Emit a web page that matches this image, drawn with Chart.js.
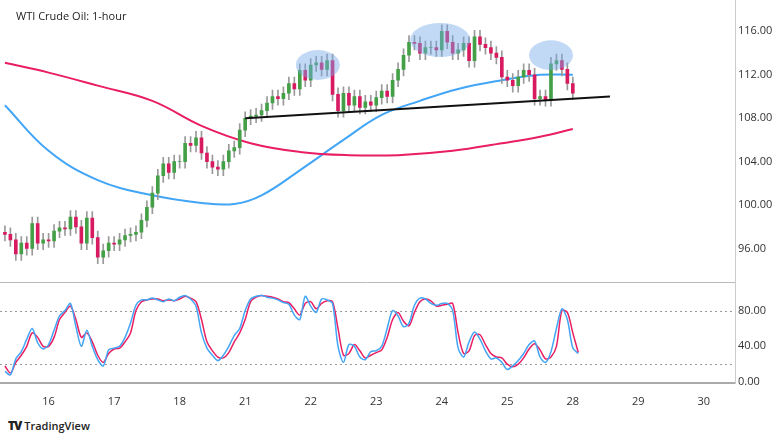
<!DOCTYPE html>
<html>
<head>
<meta charset="utf-8">
<script src="https://cdn.jsdelivr.net/npm/chart.js@4"></script>
<style>
  body { margin: 0; background: #fff; font-family: "Open Sans", sans-serif; }
  #wrap { position: relative; width: 780px; height: 439px; overflow: hidden; }
  #main { position: absolute; left: 0; top: -13px; width: 780px; height: 311px; }
  #osc { position: absolute; left: 0; top: 272px; width: 780px; height: 133px; }
  #title { position: absolute; left: 16px; top: 8px; font-size: 11px; color: #222; }
  #tv { position: absolute; left: 8px; top: 417px; font-size: 11px; color: #222; font-weight: 600; }
</style>
</head>
<body>
<div id="wrap">
  <div id="main"><canvas id="mainChart"></canvas></div>
  <div id="osc"><canvas id="oscChart"></canvas></div>
  <div id="title">WTI Crude Oil: 1-hour</div>
  <div id="tv"><b style="font-size:12px;letter-spacing:-1px">TV</b> TradingView</div>
</div>
<script>
// 2-hour bars, index 0 = first bar
const closes = [
  97.3, 96.8, 95.5, 96.5, 96.0, 98.3, 96.5, 96.8,
  96.7, 97.6, 97.9, 97.8, 98.9, 98.0, 96.5, 98.8, 97.0, 95.2, 95.8, 96.5,
  96.4, 96.8, 97.2, 97.3, 97.5, 98.6, 99.8, 101.1, 102.7, 103.8, 103.0, 104.0,
  104.0, 105.7, 105.5, 106.2, 104.8, 104.0, 103.5, 103.3, 104.0, 105.0, 105.3, 106.9,
  108.0, 108.2, 108.3, 108.7, 109.4, 110.0, 109.8, 110.3, 111.2, 110.7, 112.4, 111.5,
  112.9, 113.1, 112.5, 113.3, 110.2, 108.7, 110.3, 109.2, 110.0, 109.0, 109.5, 109.2,
  109.9, 110.5, 110.0, 111.5, 112.5, 113.8, 115.0, 114.9, 114.0, 114.5, 114.5, 114.3,
  116.0, 115.0, 114.0, 114.3, 114.9, 113.3, 115.5, 114.8, 114.5, 114.0, 113.6, 111.8,
  111.5, 111.0, 111.8, 112.4, 112.0, 109.8, 110.0, 109.7, 113.0, 113.3, 112.5, 111.2,
  110.3
];
const firstOpen = 97.5;

const maBlueX = [0, 8, 17, 27, 36, 42, 47, 54, 62, 69, 76, 83, 91, 98, 104];
const maBlueY = [109.2, 105.0, 102.3, 100.9, 100.2, 100.1, 100.9, 103.2, 106.0, 108.3, 109.6, 110.7, 111.5, 112.0, 112.0];
const maPinkX = [0, 8, 17, 27, 36, 45, 54, 63, 72, 82, 91, 98, 104];
const maPinkY = [113.1, 112.2, 111.0, 109.6, 107.3, 105.7, 104.9, 104.6, 104.6, 105.0, 105.7, 106.3, 107.0];

const stochD = [
  18, 10, 22, 30, 40, 55, 50, 40,
  40, 50, 70, 78, 85, 70, 50, 55, 45, 30, 22, 32,
  37, 38, 45, 55, 80, 90, 92, 93, 93, 91, 92, 91,
  93, 96, 94, 90, 70, 45, 35, 28, 27, 33, 45, 55,
  70, 90, 95, 97, 96, 95, 93, 90, 89, 82, 75, 88,
  90, 82, 88, 91, 90, 60, 30, 32, 42, 35, 27, 30,
  33, 36, 50, 70, 78, 68, 63, 78, 90, 93, 91, 85,
  86, 87, 88, 55, 32, 35, 52, 53, 42, 32, 28, 27,
  20, 17, 20, 27, 37, 43, 36, 26, 28, 40, 80, 78,
  55, 33
];
const stochK = [
  12, 8, 26, 34, 48, 60, 44, 37,
  42, 58, 74, 80, 88, 62, 40, 58, 40, 25, 18, 36,
  38, 40, 50, 66, 86, 92, 92, 94, 92, 90, 93, 91,
  95, 97, 93, 85, 55, 38, 30, 24, 30, 40, 52, 60,
  80, 93, 96, 97, 95, 94, 92, 89, 87, 75, 70, 96,
  85, 78, 93, 92, 88, 40, 22, 42, 40, 28, 25, 34,
  35, 40, 60, 80, 74, 62, 66, 86, 94, 93, 88, 86,
  88, 88, 80, 38, 28, 45, 56, 48, 35, 26, 27, 22,
  14, 18, 24, 32, 42, 46, 28, 22, 34, 60, 82, 70,
  38, 32
];

const dayTicks = [8, 20, 32, 44, 56, 68, 80, 92, 104, 116, 128];
const dayLabels = ['16', '17', '18', '21', '22', '23', '24', '25', '28', '29', '30'];
const priceTicks = [96, 100, 104, 108, 112, 116];
const oscTicks = [0, 40, 80];

const highlights = [
  { x: 57.3, y: 112.9, rx: 22, ry: 15 },
  { x: 79.7, y: 115.2, rx: 30, ry: 17 },
  { x: 100.0, y: 113.8, rx: 22, ry: 15 }
];
const trendLine = [{ x: 44, y: 108.0 }, { x: 110.8, y: 110.0 }];

const GREEN = '#43a047', RED = '#d81b60', BLUE = '#42a5f5', PINK = '#e91e63';
const X_MIN = -0.9, X_MAX = 133.7;

const bodies = [], wicks = [], colors = [];
closes.forEach((c, i) => {
  const o = i === 0 ? firstOpen : closes[i - 1];
  bodies.push({ x: i, y: [o, c] });
  wicks.push({ x: i, y: [Math.min(o, c) - 0.6, Math.max(o, c) + 0.6] });
  colors.push(c >= o ? GREEN : RED);
});

const fixedRight = (scale) => { scale.width = 45; };
const yTicks = { callback: v => v.toFixed(2), color: '#333', font: { size: 11, family: 'Open Sans' }, padding: 3 };

const drawOverlay = {
  id: 'overlay',
  afterDatasetsDraw(chart) {
    const { ctx, scales: { x, y } } = chart;
    ctx.save();
    ctx.fillStyle = 'rgba(120,170,235,0.45)';
    highlights.forEach(h => {
      ctx.beginPath();
      ctx.ellipse(x.getPixelForValue(h.x), y.getPixelForValue(h.y), h.rx, h.ry, 0, 0, Math.PI * 2);
      ctx.fill();
    });
    ctx.strokeStyle = '#111';
    ctx.lineWidth = 2;
    ctx.beginPath();
    ctx.moveTo(x.getPixelForValue(trendLine[0].x), y.getPixelForValue(trendLine[0].y));
    ctx.lineTo(x.getPixelForValue(trendLine[1].x), y.getPixelForValue(trendLine[1].y));
    ctx.stroke();
    ctx.restore();
  }
};

new Chart(document.getElementById('mainChart'), {
  type: 'bar',
  data: {
    datasets: [
      { type: 'line', data: maPinkX.map((v, i) => ({ x: v, y: maPinkY[i] })), borderColor: PINK, borderWidth: 2, pointRadius: 0, tension: 0.4, order: 3 },
      { type: 'line', data: maBlueX.map((v, i) => ({ x: v, y: maBlueY[i] })), borderColor: BLUE, borderWidth: 2, pointRadius: 0, tension: 0.4, order: 3 },
      { data: wicks, backgroundColor: '#999', barThickness: 1, grouped: false, order: 2 },
      { data: bodies, backgroundColor: colors, barThickness: 3, grouped: false, order: 1 }
    ]
  },
  options: {
    responsive: true, maintainAspectRatio: false, animation: false,
    layout: { padding: 0 },
    plugins: { legend: { display: false }, tooltip: { enabled: false } },
    scales: {
      x: { type: 'linear', min: X_MIN, max: X_MAX, display: false, offset: false },
      y: {
        position: 'right', min: 92.33, max: 119.2,
        afterFit: fixedRight,
        afterBuildTicks: s => { s.ticks = priceTicks.map(v => ({ value: v })); },
        ticks: yTicks,
        grid: { display: false, drawTicks: false },
        border: { display: true, color: '#ccc' }
      }
    }
  },
  plugins: [drawOverlay]
});

const oscLines = {
  id: 'oscLines',
  beforeDatasetsDraw(chart) {
    const { ctx, chartArea, scales: { y } } = chart;
    ctx.save();
    ctx.strokeStyle = '#999';
    ctx.lineWidth = 1;
    ctx.setLineDash([2, 3]);
    [80, 20].forEach(v => {
      const py = Math.round(y.getPixelForValue(v)) + 0.5;
      ctx.beginPath(); ctx.moveTo(chartArea.left, py); ctx.lineTo(chartArea.right, py); ctx.stroke();
    });
    ctx.setLineDash([]);
    ctx.strokeStyle = '#bbb';
    const top = Math.round(chartArea.top) + 0.5;
    ctx.beginPath(); ctx.moveTo(0, top); ctx.lineTo(chartArea.right, top); ctx.stroke();
    ctx.restore();
  }
};

new Chart(document.getElementById('oscChart'), {
  type: 'line',
  data: {
    datasets: [
      { data: stochK.map((v, i) => ({ x: i, y: v })), borderColor: BLUE, borderWidth: 1.5, pointRadius: 0, tension: 0.3 },
      { data: stochD.map((v, i) => ({ x: i, y: v })), borderColor: PINK, borderWidth: 1.5, pointRadius: 0, tension: 0.3 }
    ]
  },
  options: {
    responsive: true, maintainAspectRatio: false, animation: false,
    layout: { padding: 0 },
    plugins: { legend: { display: false }, tooltip: { enabled: false } },
    scales: {
      x: {
        type: 'linear', min: X_MIN, max: X_MAX,
        afterFit: s => { s.height = 22; },
        afterBuildTicks: s => { s.ticks = dayTicks.map(v => ({ value: v })); },
        ticks: { callback: v => dayLabels[dayTicks.indexOf(v)], color: '#333', font: { size: 11, family: 'Open Sans' }, maxRotation: 0, padding: 4 },
        grid: { display: false },
        border: { display: true, color: '#aaa', width: 2 }
      },
      y: {
        position: 'right', min: -1.1, max: 112.5,
        afterFit: fixedRight,
        afterBuildTicks: s => { s.ticks = oscTicks.map(v => ({ value: v })); },
        ticks: yTicks,
        grid: { display: false, drawTicks: false },
        border: { display: true, color: '#ccc' }
      }
    }
  },
  plugins: [oscLines]
});
</script>
</body>
</html>
